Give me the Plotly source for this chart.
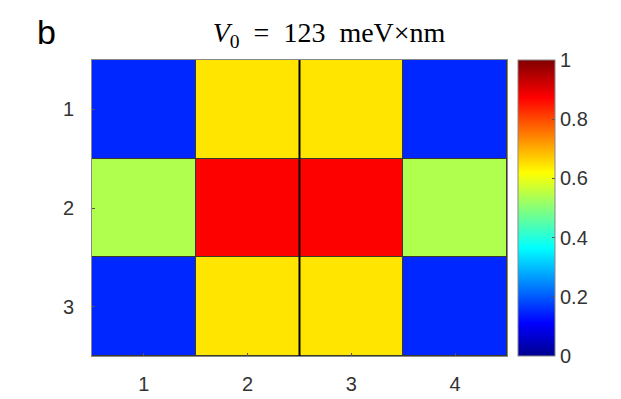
import plotly.graph_objects as go

cols = [1, 2, 3, 4]
rows = [1, 2, 3]
row1 = [0.15, 0.645, 0.645, 0.15]
row2 = [0.54, 0.875, 0.875, 0.54]
row3 = [0.15, 0.645, 0.645, 0.15]
cbar_ticks = [0, 0.2, 0.4, 0.6, 0.8, 1]

# MATLAB style jet
jet = [[0.0, 'rgb(0,0,143)'], [0.111, 'rgb(0,0,255)'], [0.365, 'rgb(0,255,255)'],
       [0.619, 'rgb(255,255,0)'], [0.873, 'rgb(255,0,0)'], [1.0, 'rgb(128,0,0)']]

tick_font = dict(family='Arial, Liberation Sans', size=20, color='#333')

fig = go.Figure(go.Heatmap(
    z=[row1, row2, row3], x=cols, y=rows,
    colorscale=jet, zmin=0, zmax=1, xgap=1, ygap=1,
    colorbar=dict(thickness=37, len=1.0, lenmode='fraction', y=0.5, yanchor='middle',
                  x=1.0265, xanchor='left', xpad=0, ypad=0,
                  outlinecolor='#888', outlinewidth=1,
                  tickvals=cbar_ticks, ticktext=[f'{t:g}' for t in cbar_ticks],
                  ticks='inside', ticklen=3, tickcolor='#555',
                  tickfont=tick_font),
))
fig.add_vline(x=2.5, line=dict(color='black', width=2))

fig.update_layout(
    width=621, height=399,
    margin=dict(l=84, r=122, t=52, b=51, autoexpand=False),
    paper_bgcolor='white', plot_bgcolor='#3a3a2a',
    title=dict(text='<i>V</i><sub>0</sub>&nbsp;&nbsp;=&nbsp;&nbsp;123&nbsp;&nbsp;meV×nm',
               x=0.517, xanchor='center', y=0.94, yanchor='middle',
               font=dict(family='Liberation Serif, DejaVu Serif', size=28, color='black')),
    annotations=[dict(text='b', xref='paper', yref='paper', x=-0.11, y=1.095,
                      xanchor='center', yanchor='middle', showarrow=False,
                      font=dict(family='Arial, Liberation Sans', size=34, color='black'))],
)
fig.update_xaxes(tickvals=cols, ticks='inside', ticklen=3, tickcolor='#555',
                 showline=True, linecolor='#888', mirror=True, showgrid=False, zeroline=False,
                 ticklabelstandoff=10, tickfont=tick_font)
fig.update_yaxes(tickvals=rows, autorange='reversed', ticks='inside', ticklen=3, tickcolor='#555',
                 showline=True, linecolor='#888', mirror=True, showgrid=False, zeroline=False,
                 ticklabelstandoff=13, tickfont=tick_font)

fig.write_html("out.html")
